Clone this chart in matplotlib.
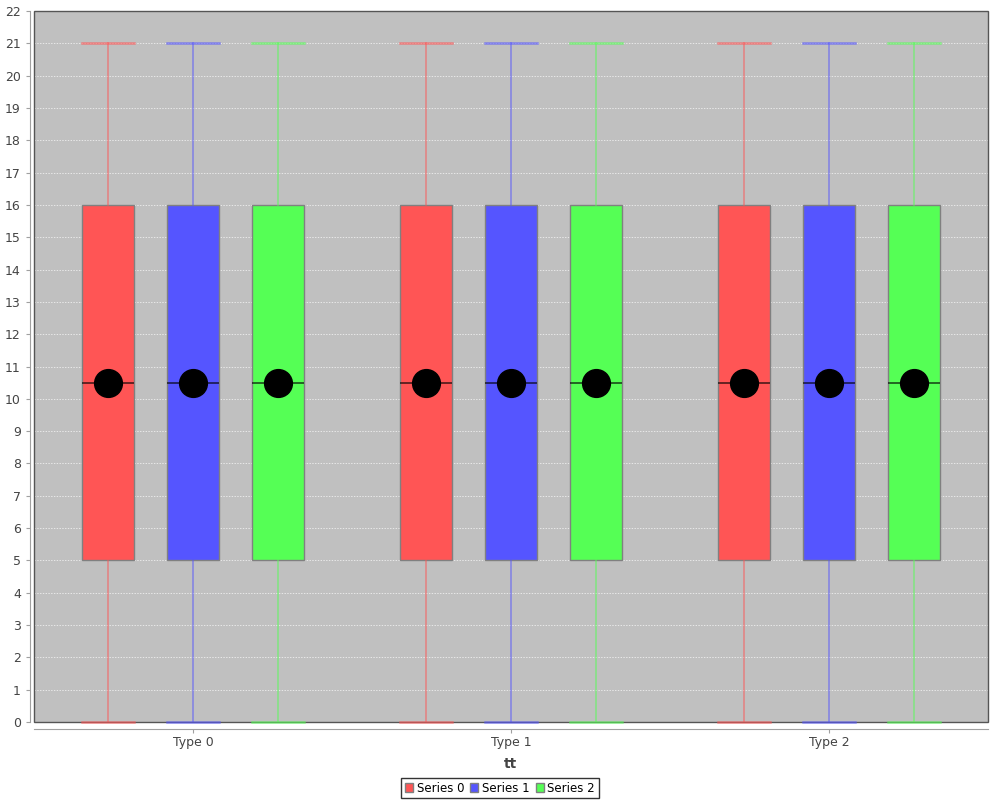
import matplotlib.pyplot as plt
from matplotlib.patches import Rectangle, Patch

categories = ["Type 0", "Type 1", "Type 2"]
series = ["Series 0", "Series 1", "Series 2"]
colors = ["#ff5555", "#5555ff", "#55ff55"]

# same stats for every box
whisker_lo = [[0, 0, 0], [0, 0, 0], [0, 0, 0]]
q1 = [[5, 5, 5], [5, 5, 5], [5, 5, 5]]
median = [[10.5, 10.5, 10.5], [10.5, 10.5, 10.5], [10.5, 10.5, 10.5]]
mean = [[10.5, 10.5, 10.5], [10.5, 10.5, 10.5], [10.5, 10.5, 10.5]]
q3 = [[16, 16, 16], [16, 16, 16], [16, 16, 16]]
whisker_hi = [[21, 21, 21], [21, 21, 21], [21, 21, 21]]

fig = plt.figure(figsize=(10, 8), dpi=100)
ax = fig.add_axes([0.034, 0.0975, 0.954, 0.88875])
ax.set_facecolor("#c0c0c0")

offsets = [-0.267, 0.0, 0.267]
width = 0.163
for s in range(3):
    stats = []
    for c in range(3):
        stats.append(dict(whislo=whisker_lo[c][s], q1=q1[c][s], med=median[c][s],
                          mean=mean[c][s], q3=q3[c][s], whishi=whisker_hi[c][s], fliers=[]))
    pos = [c + offsets[s] for c in range(3)]
    bp = ax.bxp(stats, positions=pos, widths=width, patch_artist=True, showmeans=True,
                capwidths=width, manage_ticks=False,
                boxprops=dict(facecolor=colors[s], edgecolor="#808080", linewidth=1),
                whiskerprops=dict(color=colors[s], alpha=0.55, linewidth=1.2),
                capprops=dict(color=colors[s], alpha=0.6, linewidth=1.8),
                medianprops=dict(color="black", alpha=0.7, linewidth=1.2),
                meanprops=dict(marker="o", markerfacecolor="black", markeredgecolor="black",
                               markersize=20), zorder=3)
    for cap in bp["caps"]:
        cap.set_clip_on(False)
        cap.set_zorder(6)

ax.set_xlim(-0.5, 2.5)
ax.set_ylim(0, 22)
ax.set_yticks(range(0, 23))
ax.set_xticks(range(3))
ax.set_xticklabels(categories)
ax.yaxis.grid(True, color="white", linestyle=(0, (2, 2)), linewidth=0.5, alpha=0.9)
ax.set_axisbelow(True)
ax.tick_params(labelsize=9, colors="#444444", length=3, width=0.8)
ax.tick_params(axis="both", color="#a0a0a0")
ax.tick_params(axis="x", pad=2)

for side in ["top", "right"]:
    ax.spines[side].set_visible(False)
ax.spines["left"].set_position(("outward", 3))
ax.spines["bottom"].set_position(("outward", 5))
for side in ["left", "bottom"]:
    ax.spines[side].set_color("#a0a0a0")
ax.add_patch(Rectangle((0, 0), 1, 1, transform=ax.transAxes, fill=False,
                       edgecolor="#555555", linewidth=1, clip_on=False, zorder=2))

ax.set_xlabel("tt", fontsize=10, fontweight="bold", color="#444444", labelpad=6)

handles = [Patch(facecolor=colors[i], edgecolor="#808080", label=series[i]) for i in range(3)]
leg = fig.legend(handles=handles, loc="lower center", bbox_to_anchor=(0.5, 0.0), ncol=3,
                 fontsize=8.5, frameon=True, fancybox=False, handlelength=0.7,
                 handleheight=0.7, handletextpad=0.3, columnspacing=0.5,
                 borderpad=0.3, borderaxespad=0.15)
leg.get_frame().set_edgecolor("black")
leg.get_frame().set_linewidth(1)

fig.savefig("out.png", dpi=100)
